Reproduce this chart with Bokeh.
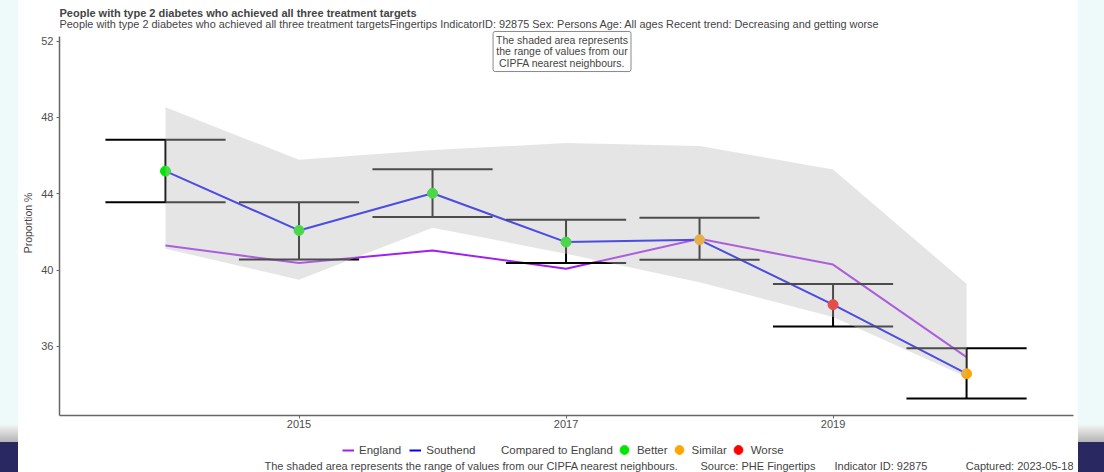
"""2型糖尿病の治療目標を達成した人の割合のグラフを描く."""
import typing as typ

import bokeh.layouts as bl
import bokeh.models as bm
import bokeh.plotting as bp
from bokeh.embed import file_html
from bokeh.resources import INLINE

YEARS: typ.List[int] = [2014, 2015, 2016, 2017, 2018, 2019, 2020]
SOUTHEND: typ.List[float] = [45.19, 42.08, 44.03, 41.47, 41.59, 38.19, 34.57]
SOUTHEND_UPPER: typ.List[float] = [46.83, 43.56, 45.29, 42.64, 42.74, 39.27, 35.90]
SOUTHEND_LOWER: typ.List[float] = [43.56, 40.56, 42.78, 40.37, 40.54, 37.05, 33.27]
ENGLAND: typ.List[float] = [41.29, 40.37, 41.03, 40.07, 41.64, 40.29, 35.44]
CIPFA_MAX: typ.List[float] = [48.54, 45.78, 46.29, 46.66, 46.50, 45.28, 39.28]
CIPFA_MIN: typ.List[float] = [41.12, 39.50, 42.22, 40.86, 39.37, 37.54, 34.40]
COMPARED: typ.List[str] = ["Better", "Better", "Better", "Better", "Similar", "Worse", "Similar"]
GROUPS: typ.List[typ.Tuple[str, str]] = [("Better", "#00e600"), ("Similar", "#ffa500"), ("Worse", "#ff0000")]
SERIES: typ.List[typ.Tuple[str, str]] = [("England", "#a020f0"), ("Southend", "#0000ff")]
X_TICKS: typ.List[int] = [2015, 2017, 2019]
Y_TICKS: typ.List[int] = [36, 40, 44, 48, 52]

TITLE: str = "People with type 2 diabetes who achieved all three treatment targets"
SUBTITLE: str = (
    "People with type 2 diabetes who achieved all three treatment targetsFingertips IndicatorID: 92875 "
    "Sex: Persons Age: All ages Recent trend: Decreasing and getting worse"
)
NOTE: str = "The shaded area represents\nthe range of values from our\nCIPFA nearest neighbours."
CAPTIONS: typ.List[str] = [
    "The shaded area represents the range of values from our CIPFA nearest neighbours.",
    "Source: PHE Fingertips",
    "Indicator ID: 92875",
    "Captured: 2023-05-18",
]
CAPTION_X: typ.List[int] = [264, 700, 834, 1073]

FONT: str = "Liberation Sans"
X0, X1 = 2013.206, 2020.801
Y0, Y1, Y_AXIS_TOP = 32.38, 52.56, 52.25
NOTE_X, NOTE_Y = 2016.97, 52.51
CAP: float = 0.45
FIG_W: int = 1060
HEIGHT: int = 472
HEAD_H: int = 30
FOOT_H: int = 36
# 枠の左右(画面上の位置)
FRAME_L, FRAME_R = 59, 1073
NAN = float("nan")


def side_div(width: int) -> bm.Div:
    """スライドの余白部分."""
    bg = ("linear-gradient(to bottom, #eef9f9 0px, #eef9f9 425px, #f4f4f4 425px, "
          "#b4b4b4 442px, #2a2860 442px, #2a2860 100%)")
    return bm.Div(text="", width=width, height=HEIGHT, styles={"background": bg}, margin=0)


def blank_fig(height: int) -> bp.figure:
    """軸のない帯(表題・凡例用)."""
    fig = bp.figure(
        width=FIG_W,
        height=height,
        x_range=bm.Range1d(FRAME_L, FRAME_R),
        y_range=bm.Range1d(0, height),
        output_backend="svg",
        toolbar_location=None,
        x_axis_location=None,
        y_axis_location=None,
        title=None,
        min_border=0,
        outline_line_color=None,
        background_fill_color="white",
        border_fill_color="white",
    )
    fig.grid.visible = False
    return fig


def make_header() -> bp.figure:
    """表題."""
    fig = blank_fig(HEAD_H)
    fig.add_layout(bm.Label(x=FRAME_L, y=18, text=TITLE, text_font=FONT, text_font_size="11px",
                            text_font_style="bold", text_baseline="middle"))
    fig.add_layout(bm.Label(x=FRAME_L, y=6.5, text=SUBTITLE, text_font=FONT, text_font_size="10.9px",
                            text_baseline="middle"))
    return fig


def legend_box(items: typ.List[bm.LegendItem], loc: typ.Tuple[int, int], gw: int, gh: int,
               standoff: int, spacing: int) -> bm.Legend:
    """横並びの凡例."""
    return bm.Legend(
        items=items,
        location=loc,
        orientation="horizontal",
        padding=0,
        margin=0,
        spacing=spacing,
        glyph_width=gw,
        glyph_height=gh,
        label_standoff=standoff,
        label_text_font=FONT,
        label_text_font_size="11.5px",
        label_height=12,
        border_line_alpha=0,
        background_fill_alpha=0,
    )


def make_footer() -> bp.figure:
    """凡例と出典."""
    fig = blank_fig(FOOT_H)
    lines = []
    for name, color in SERIES:
        r = fig.line(x=[NAN], y=[NAN], line_color=color, line_width=2)
        lines.append(bm.LegendItem(label=name, renderers=[r]))
    r = fig.scatter(x=[NAN], y=[NAN], size=1, fill_alpha=0, line_alpha=0)
    dots = [bm.LegendItem(label="Compared to England", renderers=[r])]
    for name, color in GROUPS:
        r = fig.scatter(x=[NAN], y=[NAN], size=10, fill_color=color, line_color=color)
        dots.append(bm.LegendItem(label=name, renderers=[r]))
    fig.add_layout(legend_box(lines, (283, 16), 12, 12, 5, 8))
    fig.add_layout(legend_box(dots, (418, 10), 22, 25, 2, 0))
    for i, (txt, cx) in enumerate(zip(CAPTIONS, CAPTION_X)):
        fig.add_layout(bm.Label(x=cx, y=7, text=txt, text_font=FONT, text_font_size="11px",
                                text_baseline="middle", text_align="right" if i == 3 else "left"))
    return fig


def make_main() -> bp.figure:
    """本体のグラフ."""
    source = bp.ColumnDataSource(
        dict(
            year=YEARS,
            southend=SOUTHEND,
            upper=SOUTHEND_UPPER,
            lower=SOUTHEND_LOWER,
            england=ENGLAND,
            cmax=CIPFA_MAX,
            cmin=CIPFA_MIN,
            compared=COMPARED,
            cap_l=[y - CAP for y in YEARS],
            cap_r=[y + CAP for y in YEARS],
        )
    )
    fig = bp.figure(
        width=FIG_W,
        height=HEIGHT - HEAD_H - FOOT_H,
        x_range=bm.Range1d(X0, X1),
        y_range=bm.Range1d(Y0, Y1),
        output_backend="svg",
        toolbar_location=None,
        title=None,
        min_border_left=41,
        min_border_right=5,
        min_border_top=0,
        min_border_bottom=21,
        outline_line_color=None,
        background_fill_color="white",
        border_fill_color="white",
        y_axis_label="Proportion %",
    )
    fig.grid.visible = False
    for ax in (fig.xaxis, fig.yaxis):
        ax.axis_line_color = "#666666"
        ax.axis_line_width = 1.5
        ax.major_tick_line_color = "#666666"
        ax.major_tick_in = 0
        ax.major_tick_out = 3
        ax.minor_tick_line_color = None
        ax.major_label_text_font = FONT
        ax.major_label_text_font_size = "11px"
        ax.major_label_text_color = "#4d4d4d"
        ax.major_label_standoff = 3
    fig.xaxis.major_label_standoff = 1
    fig.xaxis.ticker = bm.FixedTicker(ticks=X_TICKS)
    fig.yaxis.ticker = bm.FixedTicker(ticks=Y_TICKS)
    fig.yaxis.bounds = (Y0, Y_AXIS_TOP)
    fig.yaxis.axis_label_text_font = FONT
    fig.yaxis.axis_label_text_font_size = "10.5px"
    fig.yaxis.axis_label_text_font_style = "normal"
    fig.yaxis.axis_label_standoff = 4

    fig.line("year", "england", source=source, line_color=SERIES[0][1], line_width=2)
    fig.line("year", "southend", source=source, line_color=SERIES[1][1], line_width=2)
    fig.segment("year", "lower", "year", "upper", source=source, line_color="black", line_width=2)
    fig.segment("cap_l", "upper", "cap_r", "upper", source=source, line_color="black", line_width=2)
    fig.segment("cap_l", "lower", "cap_r", "lower", source=source, line_color="black", line_width=2)
    for name, color in GROUPS:
        view = bm.CDSView(filter=bm.GroupFilter(column_name="compared", group=name))
        fig.scatter("year", "southend", source=source, view=view, size=10, fill_color=color, line_color=color)
    fig.varea("year", "cmin", "cmax", source=source, fill_color="#bebebe", fill_alpha=0.4)

    # 注記の枠
    fig.add_layout(bm.Label(x=NOTE_X, y=NOTE_Y, text=NOTE, text_font=FONT, text_font_size="10.5px",
                            text_align="center", text_baseline="top", text_line_height=0.92,
                            border_line_color="#888888", background_fill_color="white", padding=3,
                            border_radius=2))
    return fig


def main() -> None:
    """メイン."""
    charts = bl.column(make_header(), make_main(), make_footer(), spacing=0)
    layout = bl.row(side_div(18), charts, side_div(26), spacing=0)
    open("out.html", "w").write(file_html(layout, INLINE))


if __name__ == "__main__":
    main()
